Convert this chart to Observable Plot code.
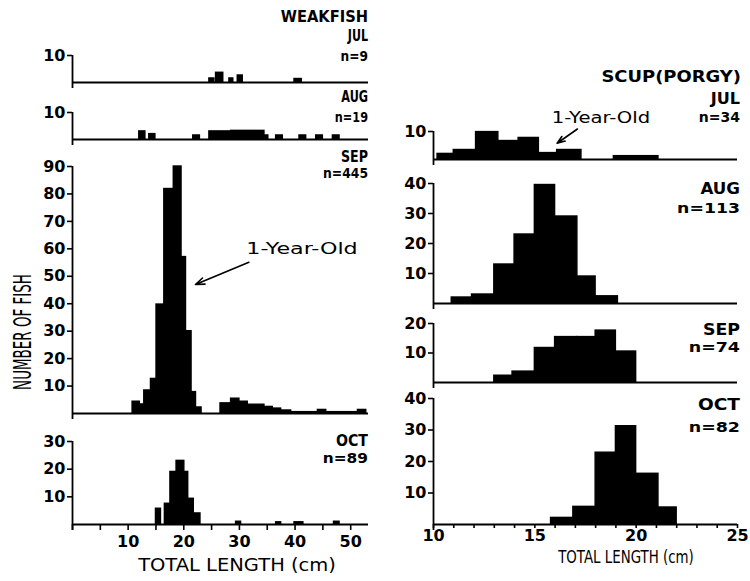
<!DOCTYPE html>
<html><head><meta charset="utf-8">
<script src="https://cdn.jsdelivr.net/npm/d3@7"></script>
<script src="https://cdn.jsdelivr.net/npm/@observablehq/plot@0.6"></script>
<style>
body{margin:0;background:#fff;}
#chart{position:relative;width:750px;height:581px;overflow:hidden;background:#fff;font-family:"DejaVu Sans",sans-serif;color:#000;}
.lbl{position:absolute;white-space:nowrap;line-height:1;}
.panel{position:absolute;}
</style></head><body><div id="chart"></div>
<script>
// ---------- DATA (total length in cm, number of fish) ----------
const months = ["JUL", "AUG", "SEP", "OCT"];
const weakfishN = [9, 19, 445, 89];
const scupN = [34, 113, 74, 82];

// Weakfish
const wfJulStart = [24.6, 25.8, 28.2, 29.7, 39.9];
const wfJulEnd   = [25.5, 27.1, 28.9, 30.6, 41.2];
const wfJulCount = [1.5, 3.6, 1.5, 2.6, 1.3];

const wfAugStart = [12.0, 13.8, 21.7, 24.6, 28.5, 34.5, 36.6, 40.8, 43.8, 46.8];
const wfAugEnd   = [13.1, 14.9, 22.9, 28.5, 34.5, 35.2, 37.8, 42.0, 45.0, 48.0];
const wfAugCount = [3, 2, 1.5, 3, 3.2, 1.5, 1.5, 1.5, 1.5, 1.5];

const wfSepStart = [10.8, 12.1, 12.9, 14.1, 15.1, 16.5, 18.2, 19.6, 20.4, 21.4, 22.2, 26.6, 28.5, 30.0, 31.5, 34.5, 36.0, 37.5, 39.3, 44.1, 45.6, 51.3];
const wfSepEnd   = [12.1, 12.9, 14.1, 15.1, 16.5, 18.2, 19.6, 20.4, 21.4, 22.2, 23.2, 28.5, 30.0, 31.5, 34.5, 36.0, 37.5, 39.3, 44.1, 45.6, 51.3, 52.8];
const wfSepCount = [4.3, 3.3, 8.4, 12.6, 39.7, 81.8, 90, 57, 30, 7.8, 2.2, 3.7, 5.4, 4.3, 3.2, 2.4, 1.8, 1.1, 0.5, 1.3, 0.5, 1.3];

const wfOctStart = [15.0, 16.6, 17.6, 18.7, 20.1, 20.8, 21.8, 29.4, 36.6, 39.9, 47.0];
const wfOctEnd   = [15.9, 17.6, 18.7, 20.1, 20.8, 21.8, 23.0, 30.3, 37.5, 41.5, 48.0];
const wfOctCount = [5.7, 7.5, 19, 23, 19, 9.3, 4, 1, 0.8, 0.8, 1];

// Scup (porgy)
const scJulStart = [10.2, 11.0, 12.1, 13.2, 14.2, 15.2, 16.1, 18.9];
const scJulEnd   = [11.0, 12.1, 13.2, 14.2, 15.2, 16.1, 17.3, 21.1];
const scJulCount = [2, 3.4, 9.8, 6.6, 7.7, 2.3, 3.4, 1.2];

const scAugStart = [10.9, 11.9, 13.0, 14.0, 15.0, 16.0, 17.1, 18.0];
const scAugEnd   = [11.9, 13.0, 14.0, 15.0, 16.0, 17.1, 18.0, 19.1];
const scAugCount = [2, 3, 13, 23, 39.5, 29, 9, 2.4];

const scSepStart = [13.0, 13.9, 15.0, 16.0, 17.1, 18.0, 19.0];
const scSepEnd   = [13.9, 15.0, 16.0, 17.1, 18.0, 19.0, 20.0];
const scSepCount = [2.3, 3.7, 11.7, 15.4, 15.4, 17.6, 10.5];

const scOctStart = [15.8, 16.9, 18.0, 19.0, 20.0, 21.1];
const scOctEnd   = [16.9, 18.0, 19.0, 20.0, 21.1, 22.0];
const scOctCount = [2.1, 5.6, 22.8, 31.2, 16.1, 5.4];

// Tick values
const wfXTicks = [0, 5, 10, 15, 20, 25, 30, 35, 40, 45, 50];
const wfXLabels = [10, 20, 30, 40, 50];
const scXTicks = [10, 11, 12, 13, 14, 15, 16, 17, 18, 19, 20, 21, 22, 23, 24, 25];
const scXLabels = [10, 15, 20, 25];
const wfYTicks = [[10], [10], [10, 20, 30, 40, 50, 60, 70, 80, 90], [10, 20, 30]];
const scYTicks = [[10], [10, 20, 30, 40], [10, 20], [10, 20, 30, 40]];
const wfYMax = [10, 10, 90, 30];
const scYMax = [10, 40, 20, 40];

// Annotations (data units of the panel they sit in)
const wfArrow = {x1: 31.7, y1: 55.1, x2: 22.1, y2: 47.0};
const scArrow = {x1: 17.1, y1: 10.9, x2: 16.1, y2: 5.8};

// ---------- LAYOUT ----------
const chart = document.getElementById("chart");

function panel(o) {
  const T = o.top - 14;
  const mb = o.xAxis ? 36 : 10;
  const H = o.base - T + mb;
  const data = o.count.map((c, i) => ({a: o.start[i], b: o.end[i], c}));
  const ext = 6 * o.yMax / (o.base - o.top);
  const marks = [
    Plot.rectY(data, {x1: "a", x2: "b", y1: 0, y2: "c", fill: "#000", stroke: "#000", strokeWidth: 1.4, inset: 0, insetLeft: 0, insetRight: 0}),
    Plot.ruleY([0], {strokeWidth: 1.8}),
    Plot.ruleX([o.xDomain[0]], {y1: -ext, y2: o.yMax, strokeWidth: 1.8}),
    Plot.axisY({ticks: o.yTicks, tickSize: 5, tickPadding: 2, strokeWidth: 1.6, label: null, fontSize: 16, fontWeight: "bold"})
  ];
  if (o.xAxis) {
    marks.push(Plot.axisX({ticks: o.xAxis.ticks, tickSize: o.xAxis.size, tickPadding: o.xAxis.pad, strokeWidth: 1.6, label: null, fontSize: 16, fontWeight: "bold",
      tickFormat: d => o.xAxis.labels.includes(d) ? String(d) : ""}));
  }
  if (o.arrow) marks.push(Plot.arrow([o.arrow], {x1: "x1", y1: "y1", x2: "x2", y2: "y2", strokeWidth: 1.6, headLength: 9, headAngle: 40, bend: 0}));
  const p = Plot.plot({
    width: o.width, height: H,
    marginLeft: o.x0 - o.left, marginRight: o.left + o.width - o.x1,
    marginTop: 14, marginBottom: mb,
    x: {domain: o.xDomain, axis: o.xAxis ? undefined : null},
    y: {domain: [0, o.yMax]},
    style: {background: "none", fontFamily: "DejaVu Sans", fontSize: "16px", overflow: "visible", color: "#000"},
    marks
  });
  p.classList.add("panel");
  p.style.left = o.left + "px";
  p.style.top = T + "px";
  chart.appendChild(p);
}

// Weakfish panels (left)
const wfBase = [82, 139, 413, 524];
const wfTop = [55, 112, 166, 441];
const wfData = [
  [wfJulStart, wfJulEnd, wfJulCount],
  [wfAugStart, wfAugEnd, wfAugCount],
  [wfSepStart, wfSepEnd, wfSepCount],
  [wfOctStart, wfOctEnd, wfOctCount]
];
wfData.forEach((d, i) => panel({
  left: 0, width: 375, x0: 72, x1: 368, xDomain: [0, 53.2],
  top: wfTop[i], base: wfBase[i], yMax: wfYMax[i], yTicks: wfYTicks[i],
  start: d[0], end: d[1], count: d[2],
  xAxis: i === 3 ? {ticks: wfXTicks, labels: wfXLabels, size: 6, pad: 5} : null,
  arrow: i === 2 ? wfArrow : null
}));

// Scup panels (right)
const scBase = [159, 303, 382, 524];
const scTop = [131, 183, 323, 398];
const scData = [
  [scJulStart, scJulEnd, scJulCount],
  [scAugStart, scAugEnd, scAugCount],
  [scSepStart, scSepEnd, scSepCount],
  [scOctStart, scOctEnd, scOctCount]
];
scData.forEach((d, i) => panel({
  left: 375, width: 375, x0: 433, x1: 737, xDomain: [10, 25],
  top: scTop[i], base: scBase[i], yMax: scYMax[i], yTicks: scYTicks[i],
  start: d[0], end: d[1], count: d[2],
  xAxis: i === 3 ? {ticks: scXTicks, labels: scXLabels, size: 4, pad: 1} : null,
  arrow: i === 0 ? scArrow : null
}));

// ---------- TEXT ----------
function label(text, x, y, w, size, weight, anchor, rotate) {
  const d = document.createElement("div");
  d.className = "lbl";
  d.textContent = text;
  d.style.fontSize = size + "px";
  d.style.fontWeight = weight || "normal";
  d.style.left = x + "px";
  d.style.top = y + "px";
  chart.appendChild(d);
  const s = w / d.offsetWidth;
  d.style.transformOrigin = "0 0";
  if (rotate) {
    d.style.transform = `rotate(-90deg) scaleX(${s}) translate(-50%, -50%)`;
  } else if (anchor === "middle") {
    d.style.transform = `scaleX(${s}) translate(-50%, -50%)`;
  } else {
    d.style.transform = `scaleX(${s}) translate(-100%, -50%)`;
  }
}
// left column
label("WEAKFISH", 368, 17, 87, 16, "bold");
const wfMonthY = [36, 97, 157, 441], wfNY = [56, 117, 173, 458];
const wfMonthW = [20, 27, 27, 32], wfNW = [27, 33, 45, 45];
months.forEach((m, i) => {
  label(m, 368, wfMonthY[i], wfMonthW[i], 15, "bold");
  label("n=" + weakfishN[i], 368, wfNY[i], wfNW[i], 14, "bold");
});
// right column
label("SCUP(PORGY)", 741, 77, 140, 16, "bold");
const scMonthY = [99, 189, 330, 405], scNY = [117, 208, 347, 427];
const scMonthW = [29, 40, 37, 42], scNW = [41, 63, 51, 51];
months.forEach((m, i) => {
  label(m, 740, scMonthY[i], scMonthW[i], 15, "bold");
  label("n=" + scupN[i], 740, scNY[i], scNW[i], 14, "bold");
});
label("1-Year-Old", 302, 249, 111, 15, "normal", "middle");
label("1-Year-Old", 601, 118, 98, 15, "normal", "middle");
label("TOTAL LENGTH (cm)", 237, 565, 198, 18, "normal", "middle");
label("TOTAL LENGTH (cm)", 626, 557, 136, 17, "normal", "middle");
label("NUMBER OF FISH", 23, 332, 116, 24, "normal", "middle", true);
</script></body></html>
